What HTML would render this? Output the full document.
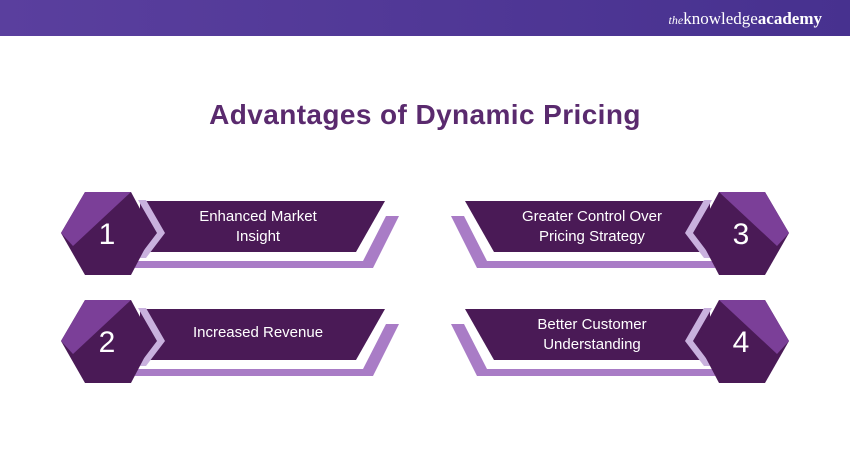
<!DOCTYPE html>
<html><head><meta charset="utf-8"><style>
html,body{margin:0;padding:0;background:#fff;}
svg{display:block;}
</style></head><body>
<svg width="850" height="450" viewBox="0 0 850 450" xmlns="http://www.w3.org/2000/svg">
<defs>
<linearGradient id="hg" x1="0" x2="1" y1="0" y2="0">
<stop offset="0" stop-color="#5a3f9e"/><stop offset="1" stop-color="#47318f"/>
</linearGradient>
<g id="card">
<polygon points="386,216 399,216 373,268 135,268 135,261 363,261" fill="#a97cc6"/>
<polygon points="140,201 385,201 356,252 140,252" fill="#4a1a56"/>
<polygon points="138,200 146,200 165,233 146,258 138,258 157,233" fill="#c9b1de"/>
<polygon points="61,233 85,192 131,192 153,233 131,275 85,275" fill="#4a1a56"/>
<polygon points="61,233 85,192 131,192 73,246" fill="#7b3f98"/>
</g>
</defs>
<rect x="0" y="0" width="850" height="36" fill="url(#hg)"/>
<text x="822" y="24" text-anchor="end" font-family="Liberation Serif, serif" font-size="17" fill="#fff"><tspan font-style="italic" font-size="12">the</tspan>knowledge<tspan font-weight="bold">academy</tspan></text>
<text x="425" y="124" text-anchor="middle" font-family="Liberation Sans, sans-serif" font-weight="bold" font-size="28" letter-spacing="0.4" fill="#5a2a6e">Advantages of Dynamic Pricing</text>

<use href="#card"/>
<use href="#card" transform="translate(0,108)"/>
<use href="#card" transform="translate(850,0) scale(-1,1)"/>
<use href="#card" transform="translate(850,108) scale(-1,1)"/>

<g font-family="Liberation Sans, sans-serif" fill="#fff">
<g font-size="30" text-anchor="middle">
<text x="107" y="244">1</text>
<text x="107" y="352">2</text>
<text x="741" y="244">3</text>
<text x="741" y="352">4</text>
</g>
<g font-size="15" text-anchor="middle">
<text x="258" y="221">Enhanced Market</text>
<text x="258" y="241">Insight</text>
<text x="258" y="337">Increased Revenue</text>
<text x="592" y="221">Greater Control Over</text>
<text x="592" y="241">Pricing Strategy</text>
<text x="592" y="329">Better Customer</text>
<text x="592" y="349">Understanding</text>
</g>
</g>
</svg>
</body></html>
